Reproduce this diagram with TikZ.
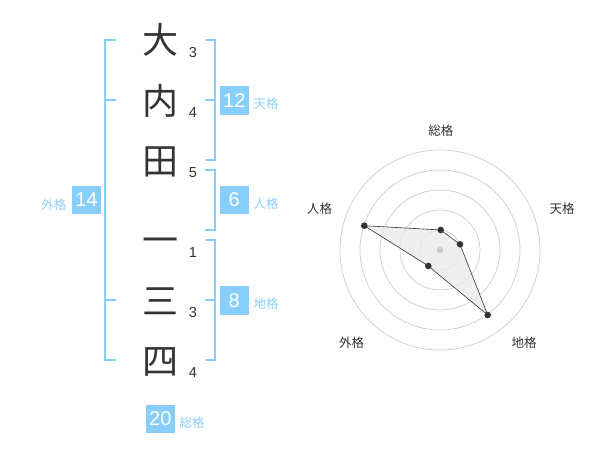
\documentclass[tikz,border=0pt]{standalone}
\usepackage{fontspec}
\setmainfont{Liberation Sans}
\newfontfamily\jpfont{Noto Sans CJK JP}
\definecolor{kakublue}{HTML}{87CEFA}
\definecolor{kakutext}{HTML}{8CCFF7}
\definecolor{ringgray}{HTML}{CCCCCC}
\definecolor{inkgray}{HTML}{333333}
\tikzset{
  kanji/.style={font=\jpfont\fontsize{36}{36}\selectfont, text=inkgray, inner sep=0pt, anchor=base},
  strokes/.style={font=\fontsize{14.5}{14.5}\selectfont, text=inkgray, inner sep=0pt},
  kakubox/.style={fill=kakublue, text=white, minimum size=28.7pt, inner sep=0pt, font=\fontsize{20}{20}\selectfont},
  kakulabel/.style={font=\jpfont\fontsize{12.5}{12.5}\selectfont, text=kakutext, inner sep=0pt},
  bracket/.style={draw=kakublue, line width=2.2pt},
  ring/.style={draw=ringgray, line width=0.7pt},
  axislabel/.style={font=\jpfont\fontsize{12.5}{12.5}\selectfont, text=inkgray, inner sep=0pt},
  dot/.style={circle, fill=inkgray, inner sep=0pt, minimum size=6.6pt}
}
\begin{document}
\begin{tikzpicture}[x=1pt, y=-1pt]
  \useasboundingbox (0,0) rectangle (600,470);
  % name
  \draw
    (160,53.5) node[kanji] (k1){大}
    (160,114.5) node[kanji] (k2){内}
    (160,174.5) node[kanji] (k3){田}
    (160,253.5) node[kanji] (k4){一}
    (160,314.5) node[kanji] (k5){三}
    (160,374.5) node[kanji] (k6){四};
  \draw
    (193,53) node[strokes] (s1){3}
    (193,113) node[strokes] (s2){4}
    (193,173) node[strokes] (s3){5}
    (193,253) node[strokes] (s4){1}
    (193,313) node[strokes] (s5){3}
    (193,373) node[strokes] (s6){4};
  % brackets
  \begin{scope}[bracket]
    \draw (116,40) -- (105,40) -- (105,360) -- (116,360);
    \draw (105,100) -- (116,100);
    \draw (105,300) -- (116,300);
    \draw (205,40) -- (215,40) -- (215,160) -- (205,160);
    \draw (205,100) -- (215,100);
    \draw (205,170) -- (215,170) -- (215,230) -- (205,230);
    \draw (205,240) -- (215,240) -- (215,360) -- (205,360);
    \draw (205,300) -- (215,300);
  \end{scope}
  % scores
  \node[kakubox] (gai) at (86.5,200) {14};
  \node[kakubox] (ten) at (234.3,100.3) {12};
  \node[kakubox] (jin) at (234.3,200) {6};
  \node[kakubox] (chi) at (234.3,300.3) {8};
  \node[kakubox] (sou) at (160.3,419) {20};
  \node[kakulabel] (gail) at (54,204.5) {外格};
  \node[kakulabel] (tenl) at (266,104) {天格};
  \node[kakulabel] (jinl) at (266,203.5) {人格};
  \node[kakulabel] (chil) at (266,304) {地格};
  \node[kakulabel] (soul) at (192,423) {総格};
  % radar
  \begin{scope}[shift={(440,250)}, y=1pt]
    \draw[ring] (0,0) circle (20) (0,0) circle (40) (0,0) circle (60)
      (0,0) circle (80) (0,0) circle (100);
    \coordinate (p1) at (0.7,20);
    \coordinate (p2) at (20,5.7);
    \coordinate (p3) at (47.7,-65);
    \coordinate (p4) at (-11.7,-16);
    \coordinate (p5) at (-75.7,24.3);
    \draw[inkgray, line width=0.6pt, fill=black!8, fill opacity=0.8]
      (p1) -- (p2) -- (p3) -- (p4) -- (p5) -- cycle;
    \node[dot, fill=ringgray] (c) at (0,0) {};
    \node[dot] (d1) at (p1) {};
    \node[dot] (d2) at (p2) {};
    \node[dot] (d3) at (p3) {};
    \node[dot] (d4) at (p4) {};
    \node[dot] (d5) at (p5) {};
    \node[axislabel] (a1) at (0.8,119.2) {総格};
    \node[axislabel] (a2) at (122,41.3) {天格};
    \node[axislabel] (a3) at (84,-92.5) {地格};
    \node[axislabel] (a4) at (-88.3,-92.5) {外格};
    \node[axislabel] (a5) at (-120.5,41.3) {人格};
  \end{scope}
\end{tikzpicture}
\end{document}
